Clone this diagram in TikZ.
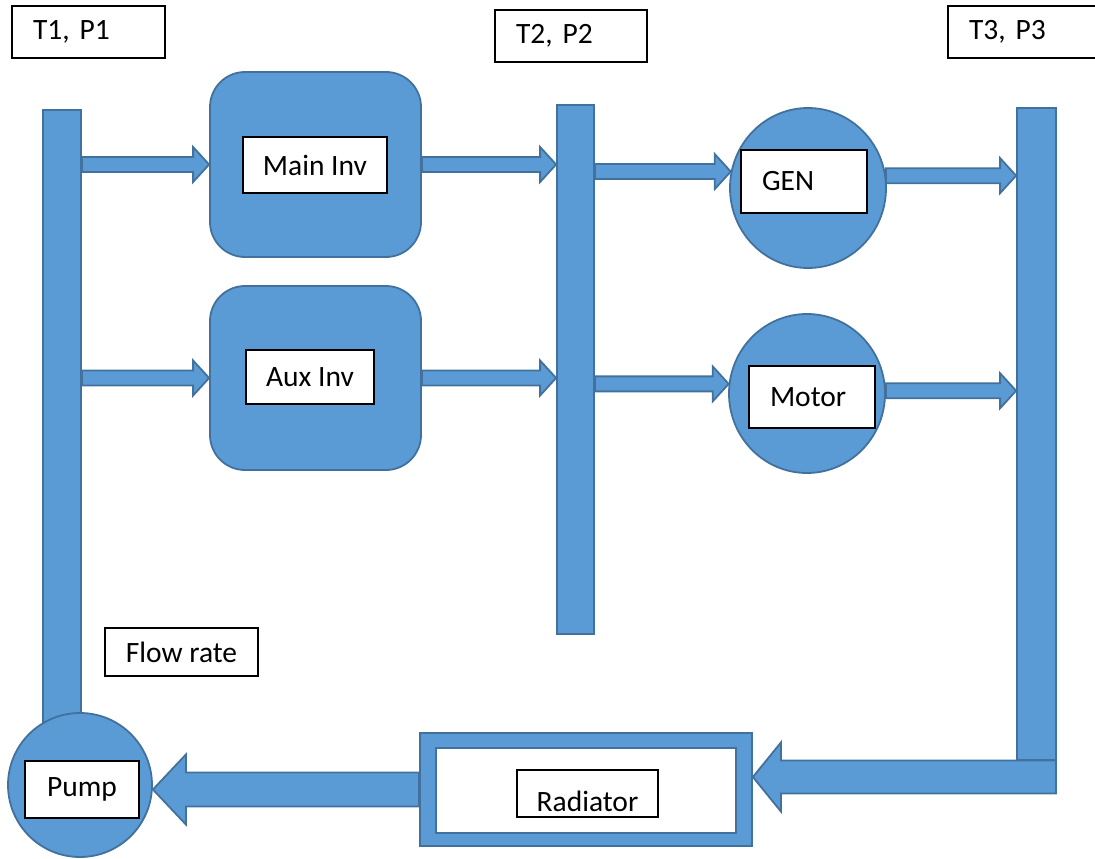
\documentclass[tikz,border=0pt]{standalone}
\usepackage{fontspec}
\setmainfont{Carlito}
\usetikzlibrary{shapes.geometric,calc}
\definecolor{coolfill}{RGB}{91,155,213}
\definecolor{cooledge}{RGB}{65,113,156}
\tikzset{
  part/.style={draw=cooledge, fill=coolfill, line width=1.8pt, inner sep=0pt},
  tag/.style={draw=black, fill=white, line width=1.2pt, inner sep=0pt, font=\fontsize{29.5}{35}\selectfont\frenchspacing},
  tagleft/.style={tag, align=left, inner xsep=21pt, text width=#1},
  flow/.style={draw=cooledge, fill=coolfill, line width=1.8pt, line join=miter}
}
% block arrow: from, to, shaft half width, head half width, head length
\newcommand{\flowarrow}[5]{%
  \path[flow] let \p1=(#1), \p2=(#2), \n1={(\x2>\x1)*2-1} in
    (\x1,\y1+#3pt) -- (\x2-\n1*#5pt,\y1+#3pt) -- (\x2-\n1*#5pt,\y1+#4pt) -- (\x2,\y1)
    -- (\x2-\n1*#5pt,\y1-#4pt) -- (\x2-\n1*#5pt,\y1-#3pt) -- (\x1,\y1-#3pt) -- cycle;}

\begin{document}
\begin{tikzpicture}[x=1pt,y=-1pt]
    \useasboundingbox (0,0) rectangle (1095,859);
    % manifolds
    \node[part, minimum width=38pt, minimum height=612pt] (inlet) at (62,416) {};
    \node[part, minimum width=37pt, minimum height=529pt] (mid) at (575.5,369.5) {};
    \node[part, minimum width=39pt, minimum height=652pt] (outlet) at (1036.5,434) {};
    % components
    \node[part, rounded corners=35pt, minimum width=211pt, minimum height=185pt] (maininv) at (315.5,164.5) {};
    \node[part, rounded corners=35pt, minimum width=211pt, minimum height=184pt] (auxinv) at (315.5,378) {};
    \node[part, ellipse, minimum width=156pt, minimum height=160pt] (gen) at (808,188) {};
    \node[part, ellipse, minimum width=156pt, minimum height=159pt] (motor) at (807,393.5) {};
    \node[part, minimum width=332pt, minimum height=113pt] (radiator) at (586,789.5) {};
    \node[draw=cooledge, fill=white, line width=1.8pt, minimum width=300pt, minimum height=85pt] (radcore) at (586,790.5) {};
    \node[part, circle, minimum size=144pt] (pump) at (80,785) {};
    \coordinate (return) at (1056,777);
    % flow
    \flowarrow{inlet.east |- maininv.west}{maininv.west}{7.5}{17.5}{16}
    \flowarrow{inlet.east |- auxinv.west}{auxinv.west}{7.5}{17.5}{16}
    \flowarrow{maininv.east}{mid.west}{7.5}{17.5}{16}
    \flowarrow{auxinv.east}{mid.west}{7.5}{17.5}{16}
    \flowarrow{mid.east |- gen.168}{gen.168}{7.5}{17.5}{16}
    \flowarrow{mid.east |- motor.173}{motor.173}{7.5}{17.5}{16}
    \flowarrow{gen.9}{outlet.west}{7.5}{17.5}{16}
    \flowarrow{motor.2}{outlet.west}{7.5}{17.5}{16}
    \flowarrow{return}{radiator.east}{16.5}{34.5}{28}
    \flowarrow{radiator.west}{pump.east}{17}{35}{33}
    % labels
    \node[tagleft=111pt, minimum height=52pt] (t1) at (88.5,32) {T1, P1};
    \node[tagleft=110pt, minimum height=52pt] (t2) at (571,36) {T2, P2};
    \node[tagleft=111pt, minimum height=52pt] (t3) at (1024.5,32) {T3, P3};
    \node[tag, minimum width=153pt, minimum height=48pt] (flowrate) at (181.5,652) {Flow rate};
    \node[tag, minimum width=144pt, minimum height=56pt] (maintag) at (315,165) {Main Inv};
    \node[tag, minimum width=128pt, minimum height=54pt] (auxtag) at (310,377) {Aux Inv};
    \node[tagleft=84pt, minimum height=63pt] (gentag) at (804,181.5) {GEN};
    \node[tagleft=84pt, minimum height=62pt] (motortag) at (812,397) {Motor};
    \node[tag, minimum width=114pt, minimum height=57pt] (pumptag) at (82,789.5) {Pump};
    \node[tag, minimum width=141pt, minimum height=47pt, text height=35pt, text depth=0pt] (radtag) at (587.5,793.5) {Radiator};
\end{tikzpicture}
\end{document}
